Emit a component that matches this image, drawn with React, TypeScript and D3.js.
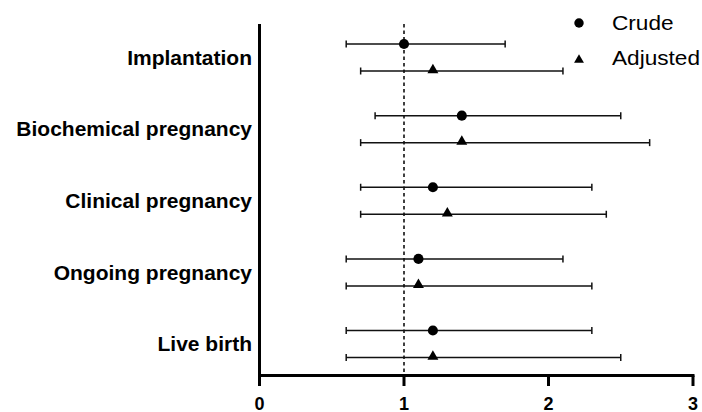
import * as d3 from "d3";

const outcomes = [
  "Implantation",
  "Biochemical pregnancy",
  "Clinical pregnancy",
  "Ongoing pregnancy",
  "Live birth",
];
const series = ["Crude", "Adjusted"];

// odds ratio and 95% CI
const crudeOR = [1.0, 1.4, 1.2, 1.1, 1.2];
const crudeLow = [0.6, 0.8, 0.7, 0.6, 0.6];
const crudeHigh = [1.7, 2.5, 2.3, 2.1, 2.3];
const adjOR = [1.2, 1.4, 1.3, 1.1, 1.2];
const adjLow = [0.7, 0.7, 0.7, 0.6, 0.6];
const adjHigh = [2.1, 2.7, 2.4, 2.3, 2.5];

const xTicks = [0, 1, 2, 3];

const W = 702;
const H = 412;
const font = "'Liberation Sans', Arial, sans-serif";

export default function App() {
  const x = d3.scaleLinear().domain([0, 3]).range([259.5, 693]);
  const y = d3.scalePoint().domain(outcomes).range([57.5, 344]);
  const offset = d3.scalePoint().domain(series).range([-13.5, 13.5]);

  const rows = series.flatMap((s) =>
    outcomes.map((o, i) => ({
      series: s,
      outcome: o,
      or: s === "Crude" ? crudeOR[i] : adjOR[i],
      lo: s === "Crude" ? crudeLow[i] : adjLow[i],
      hi: s === "Crude" ? crudeHigh[i] : adjHigh[i],
    })),
  );

  const circle = d3.symbol(d3.symbolCircle, 80)();
  const tri = d3.symbol(d3.symbolTriangle, 52)();
  const legendCircle = d3.symbol(d3.symbolCircle, 70)();
  const legendTri = d3.symbol(d3.symbolTriangle, 42)();

  const yTop = 24;
  const yBottom = 375.5;

  return (
    <div style={{ position: "fixed", left: 0, top: 0 }}>
      <svg width={W} height={H} style={{ display: "block", background: "#fff" }}>
        {/* reference line at OR = 1 */}
        <line
          x1={x(1)}
          x2={x(1)}
          y1={yTop}
          y2={yBottom}
          stroke="#000"
          strokeWidth={1.5}
          strokeDasharray="3.5,3"
        />

        {/* error bars */}
        {rows.map((d) => {
          const cy = (y(d.outcome) ?? 0) + (offset(d.series) ?? 0);
          return (
            <g key={d.series + d.outcome}>
              <line x1={x(d.lo)} x2={x(d.hi)} y1={cy} y2={cy} stroke="#111" strokeWidth={1.5} />
              <line x1={x(d.lo)} x2={x(d.lo)} y1={cy - 3.5} y2={cy + 3.5} stroke="#111" strokeWidth={1.5} />
              <line x1={x(d.hi)} x2={x(d.hi)} y1={cy - 3.5} y2={cy + 3.5} stroke="#111" strokeWidth={1.5} />
              <path
                d={d.series === "Crude" ? circle : tri}
                transform={`translate(${x(d.or)},${cy + (d.series === "Crude" ? 0 : -1)})`}
                fill="#000"
              />
            </g>
          );
        })}

        {/* axes */}
        <line x1={x(0)} x2={x(0)} y1={yTop} y2={yBottom + 1.5} stroke="#000" strokeWidth={3} />
        <line x1={x(0) - 1.5} x2={x(3) + 1.5} y1={yBottom} y2={yBottom} stroke="#000" strokeWidth={3} />
        {xTicks.map((t) => (
          <g key={t}>
            <line x1={x(t)} x2={x(t)} y1={yBottom} y2={386} stroke="#000" strokeWidth={3} />
            <text
              x={x(t)}
              y={409.5}
              textAnchor="middle"
              fontFamily={font}
              fontWeight="bold"
              fontSize={18}
              fill="#000"
            >
              {t}
            </text>
          </g>
        ))}

        {/* category labels */}
        {outcomes.map((o) => (
          <text
            key={o}
            transform={`translate(252,${(y(o) ?? 0) + 7.3}) scale(1.05,1)`}
            textAnchor="end"
            fontFamily={font}
            fontWeight="bold"
            fontSize={20}
            fill="#000"
          >
            {o}
          </text>
        ))}

        {/* legend */}
        {series.map((s, i) => (
          <g key={s} transform={`translate(579,${23 + i * 35})`}>
            <path
              d={s === "Crude" ? legendCircle : legendTri}
              transform={`translate(0,${s === "Crude" ? 0 : 2})`}
              fill="#000"
            />
            <text
              transform="translate(33,7) scale(1.16,1)"
              fontFamily={font}
              fontSize={19.5}
              fill="#000"
            >
              {s}
            </text>
          </g>
        ))}
      </svg>
    </div>
  );
}
